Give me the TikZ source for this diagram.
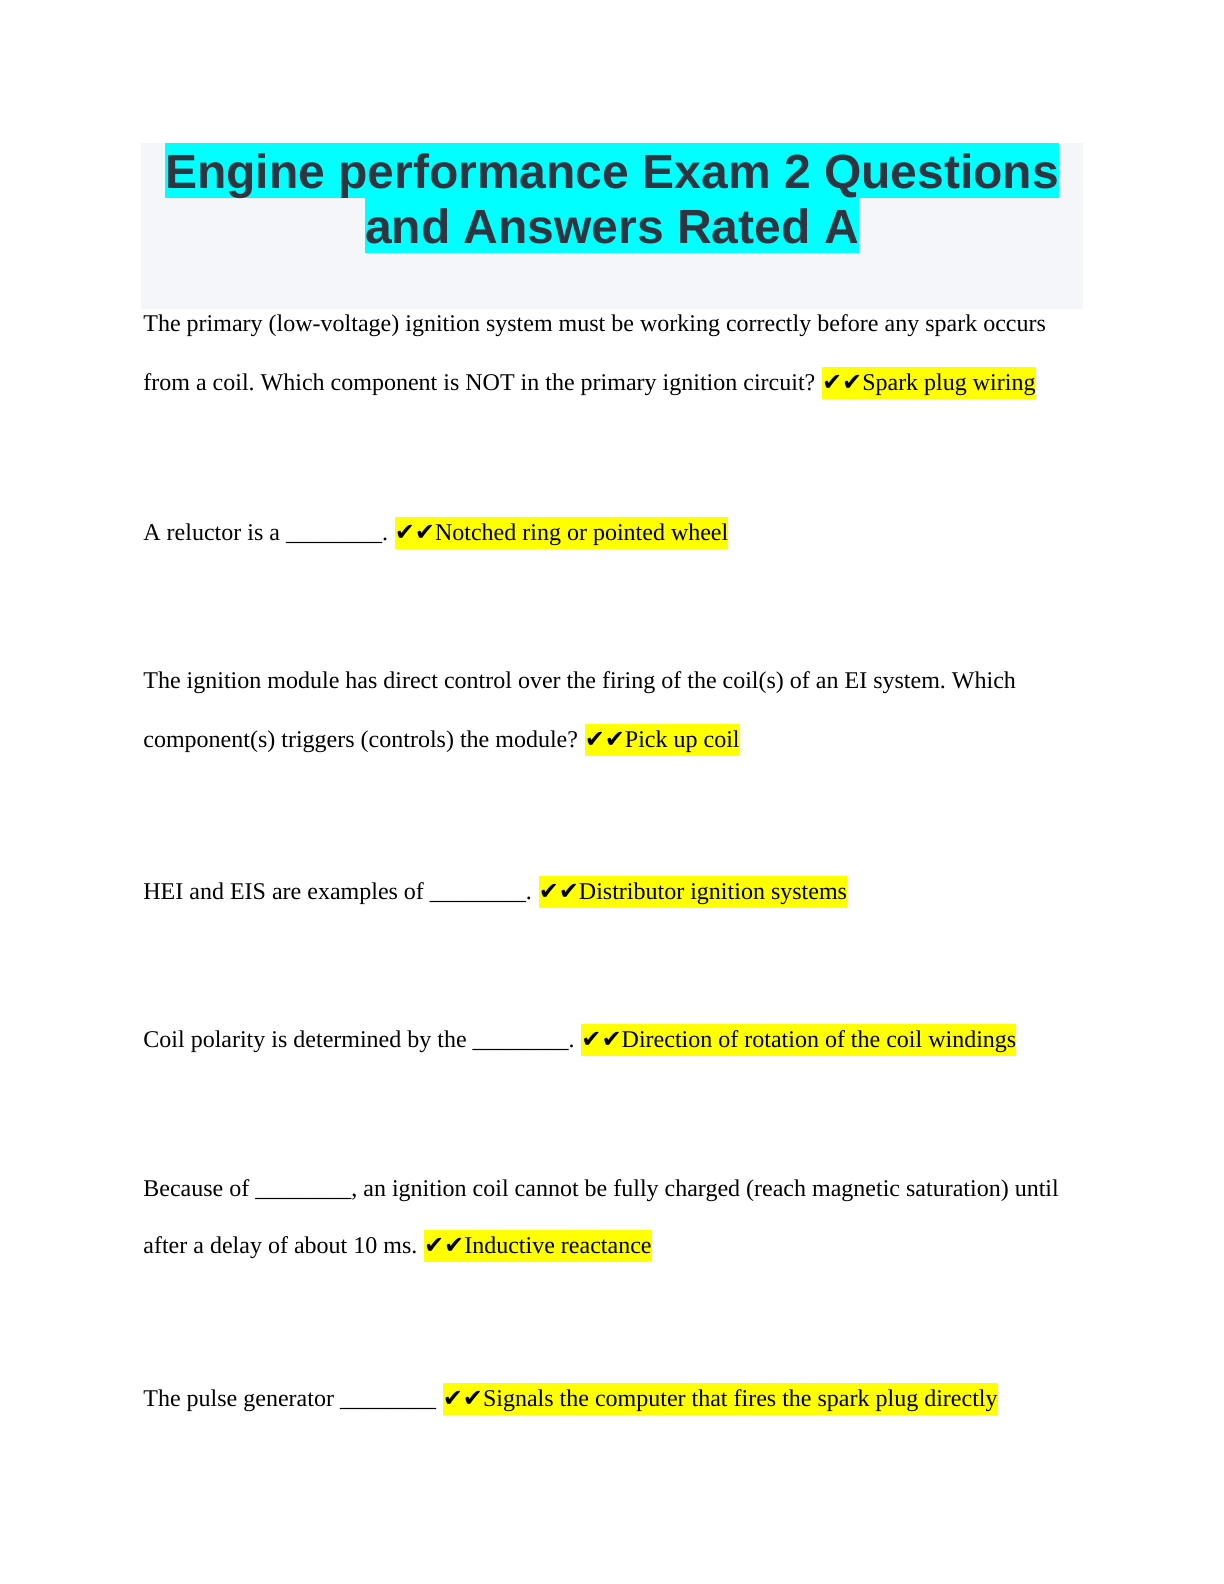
\documentclass[tikz,border=0pt]{standalone}
\usepackage{fontspec}
\setmainfont{Liberation Serif}
\newfontfamily\titlefont{Liberation Sans}
\newfontfamily\chkfont{DejaVu Sans}
\frenchspacing
\definecolor{titlegray}{RGB}{245,246,250}
\definecolor{titleink}{RGB}{46,52,64}
\definecolor{hlyellow}{RGB}{255,255,0}
\definecolor{hlcyan}{RGB}{0,255,255}
\newcommand{\blankline}{\_\_\_\_\_\_\_\_}
\newcommand{\chks}{{\chkfont ✔✔}}
\tikzset{
  body/.style={anchor=base west, inner sep=0pt, font=\fontsize{12}{14}\selectfont, text=black},
  ans/.style={anchor=base west, inner sep=0pt, fill=hlyellow, text height=11.6pt, text depth=4.4pt, font=\fontsize{12}{14}\selectfont},
  titlehl/.style={anchor=base, inner sep=0pt, fill=hlcyan, text height=22.5pt, text depth=5pt, text=titleink, font=\titlefont\bfseries\fontsize{24}{27.6}\selectfont}
}
\begin{document}
\frenchspacing
\begin{tikzpicture}[x=1pt,y=-1pt]
\useasboundingbox[fill=white] (0,0) rectangle (612,792);
% title block
\fill[titlegray] (70.5,71.5) rectangle (541.5,154.5);
\node[titlehl] (t1) at (306,94) {Engine performance Exam 2 Questions};
\node[titlehl] (t2) at (306,121.5) {and Answers Rated A};
% Q1
\node[body] (q1a) at (71.5,165.5) {The primary (low-voltage) ignition system must be working correctly before any spark occurs};
\node[body] (q1b) at (71.5,195) {from a coil. Which component is NOT in the primary ignition circuit?};
\node[ans] (a1) at ([xshift=3pt]q1b.base east) {\chks Spark plug wiring};
% Q2
\node[body] (q2) at (71.5,270) {A reluctor is a \blankline.};
\node[ans] (a2) at ([xshift=3pt]q2.base east) {\chks Notched ring or pointed wheel};
% Q3
\node[body] (q3a) at (71.5,344) {The ignition module has direct control over the firing of the coil(s) of an EI system. Which};
\node[body] (q3b) at (71.5,373.5) {component(s) triggers (controls) the module?};
\node[ans] (a3) at ([xshift=3pt]q3b.base east) {\chks Pick up coil};
% Q4
\node[body] (q4) at (71.5,449.5) {HEI and EIS are examples of \blankline.};
\node[ans] (a4) at ([xshift=3pt]q4.base east) {\chks Distributor ignition systems};
% Q5
\node[body] (q5) at (71.5,523.5) {Coil polarity is determined by the \blankline.};
\node[ans] (a5) at ([xshift=3pt]q5.base east) {\chks Direction of rotation of the coil windings};
% Q6
\node[body] (q6a) at (71.5,598) {Because of \blankline, an ignition coil cannot be fully charged (reach magnetic saturation) until};
\node[body] (q6b) at (71.5,626.5) {after a delay of about 10 ms.};
\node[ans] (a6) at ([xshift=3pt]q6b.base east) {\chks Inductive reactance};
% Q7
\node[body] (q7) at (71.5,703) {The pulse generator \blankline};
\node[ans] (a7) at ([xshift=3pt]q7.base east) {\chks Signals the computer that fires the spark plug directly};
\end{tikzpicture}
\end{document}
